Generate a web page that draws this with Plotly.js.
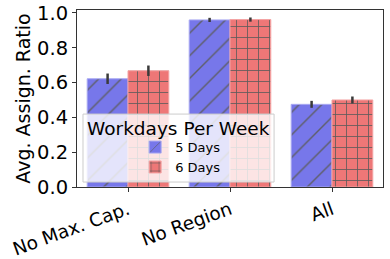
<!DOCTYPE html>
<html>
<head>
<meta charset="utf-8">
<script src="https://cdn.plot.ly/plotly-3.0.1.min.js"></script>
<style>html,body{margin:0;padding:0;background:#fff;}#chart{width:390px;height:259px;}</style>
</head>
<body>
<div id="chart"></div>
<script>
const categories = ["No Max. Cap.", "No Region", "All"];
const seriesNames = ["5 Days", "6 Days"];
const legendTitle = "Workdays Per Week";
const values5 = [0.622, 0.960, 0.475];
const values6 = [0.668, 0.962, 0.500];
const err5 = [0.030, 0.012, 0.020];
const err6 = [0.030, 0.012, 0.020];
const yTicks = [0.0, 0.2, 0.4, 0.6, 0.8, 1.0];

const font = "DejaVu Sans, sans-serif";

const traces = [
  {
    type: "bar", name: seriesNames[0], x: categories, y: values5,
    marker: {
      color: "#7777ea",
      line: {width: 1, color: "#a9a9f2"},
      pattern: {shape: "/", fgcolor: "#5f5f6a", bgcolor: "#7777ea", size: 16, solidity: 0.09}
    },
    error_y: {type: "data", array: err5, visible: true, color: "#3a3a3a", thickness: 2.5, width: 0}
  },
  {
    type: "bar", name: seriesNames[1], x: categories, y: values6,
    marker: {
      color: "#ee7777",
      line: {width: 1, color: "#f4a3a3"},
      pattern: {shape: "+", fgcolor: "#5a5a5a", bgcolor: "#ee7777", size: 11, solidity: 0.14}
    },
    error_y: {type: "data", array: err6, visible: true, color: "#3a3a3a", thickness: 2.5, width: 0}
  }
];

const layout = {
  width: 390, height: 259,
  margin: {l: 77, r: 7, t: 10, b: 72},
  paper_bgcolor: "#ffffff", plot_bgcolor: "#ffffff",
  font: {family: font, color: "#000", size: 19},
  barmode: "group", bargap: 0.2, bargroupgap: 0,
  xaxis: {
    range: [-0.5, 2.5],
    tickangle: -20,
    tickfont: {family: font, size: 18.5, color: "#000"},
    ticks: "outside", ticklen: 4, tickcolor: "#333",
    showline: true, linecolor: "#333", linewidth: 1, mirror: true,
    showgrid: false, zeroline: false
  },
  yaxis: {
    range: [0, 1.017],
    tickvals: yTicks, tickformat: ".1f",
    tickfont: {family: font, size: 19.5, color: "#000"},
    ticks: "outside", ticklen: 4, tickcolor: "#333",
    showline: true, linecolor: "#333", linewidth: 1, mirror: true,
    showgrid: false, zeroline: false,
    title: {text: "Avg. Assign. Ratio", font: {family: font, size: 19, color: "#000"}, standoff: 1}
  },
  shapes: [{
    type: "rect", xref: "paper", yref: "paper", layer: "above",
    x0: 0.0196, x1: 0.644, y0: 0.028, y1: 0.412,
    fillcolor: "rgba(255,255,255,0.8)", line: {color: "#cccccc", width: 1}
  }],
  annotations: [{
    text: legendTitle, xref: "paper", yref: "paper", x: 0.332, y: 0.333,
    xanchor: "center", yanchor: "middle", showarrow: false,
    font: {family: font, size: 18.5, color: "#000"}
  }],
  showlegend: true,
  legend: {
    x: 0.19, y: 0.31, xanchor: "left", yanchor: "top",
    bgcolor: "rgba(0,0,0,0)", borderwidth: 0,
    font: {family: font, size: 13, color: "#000"},
    tracegroupgap: 0
  }
};

Plotly.newPlot("chart", traces, layout, {displayModeBar: false, staticPlot: true});
</script>
</body>
</html>
